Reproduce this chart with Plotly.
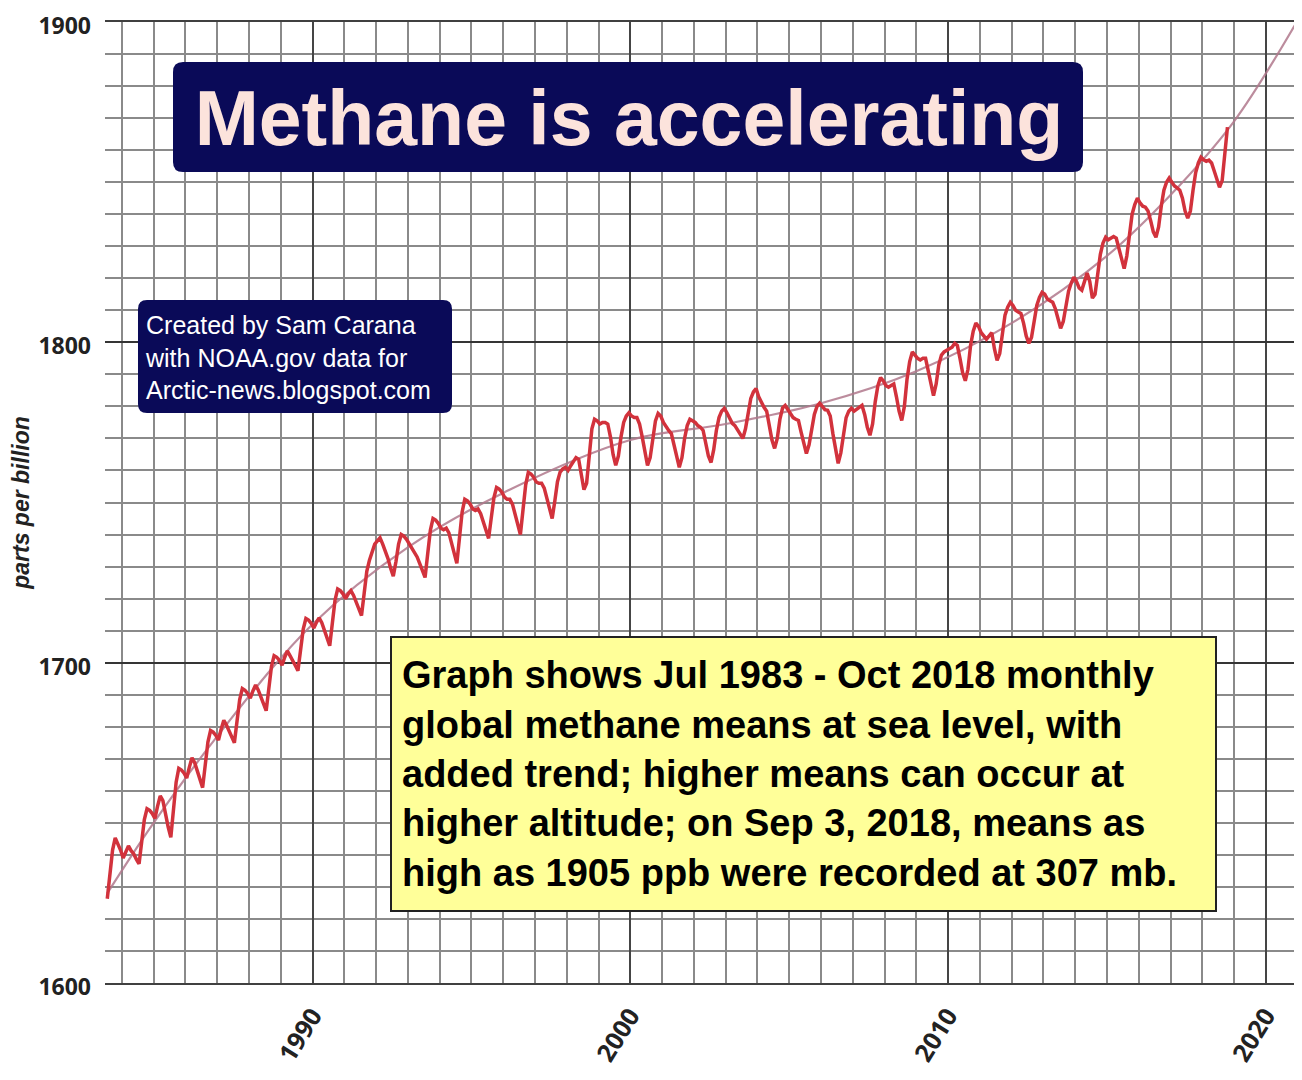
import plotly.graph_objects as go

# ---- data: NOAA global monthly mean methane (ppb), Jul 1983 - Oct 2018
start_year = 1983
start_month = 7
ch4_ppb = [
    1626.3, 1633.9, 1641.5, 1645.3, 1643.5, 1641.5,                                        # 1983 Jul-Dec
    1639.0, 1641.0, 1642.8, 1641.3, 1640.3, 1638.6, 1637.2, 1644.1, 1651.0, 1654.4, 1653.9, 1652.9,  # 1984
    1651.4, 1655.2, 1658.4, 1656.9, 1652.6, 1648.7, 1645.5, 1654.1, 1662.7, 1667.0, 1666.5, 1665.5,  # 1985
    1664.0, 1667.4, 1670.3, 1668.8, 1666.1, 1663.3, 1661.0, 1668.1, 1675.2, 1678.8, 1678.3, 1677.3,  # 1986
    1675.8, 1679.2, 1682.0, 1680.5, 1678.8, 1676.8, 1675.0, 1681.8, 1688.5, 1691.9, 1691.4, 1690.4,  # 1987
    1688.9, 1691.2, 1693.0, 1691.5, 1689.4, 1687.0, 1685.0, 1691.9, 1698.8, 1702.2, 1701.7, 1700.7,  # 1988
    1699.2, 1701.7, 1703.7, 1702.2, 1700.9, 1699.1, 1697.5, 1704.0, 1710.5, 1713.8, 1713.3, 1712.3,  # 1989
    1710.8, 1712.6, 1714.0, 1712.5, 1710.1, 1707.5, 1705.3, 1712.4, 1719.5, 1723.0, 1722.5, 1721.5,  # 1990
    1720.0, 1721.5, 1722.5, 1721.0, 1719.0, 1716.7, 1714.7, 1721.6, 1728.5, 1732.0, 1735.0, 1737.0,  # 1991
    1738.0, 1739.0, 1737.0, 1735.0, 1732.5, 1729.5, 1727.0, 1731.5, 1737.0, 1740.0, 1739.5, 1738.5,  # 1992
    1737.0, 1735.5, 1734.4, 1733.0, 1730.9, 1728.6, 1726.6, 1734.0, 1741.3, 1745.0, 1744.5, 1743.5,  # 1993
    1742.0, 1741.5, 1742.0, 1740.5, 1737.0, 1733.8, 1731.0, 1739.0, 1747.0, 1751.0, 1750.5, 1749.5,  # 1994
    1748.0, 1747.5, 1748.0, 1746.5, 1743.9, 1741.1, 1738.8, 1745.2, 1751.5, 1754.7, 1754.2, 1753.2,  # 1995
    1751.7, 1751.0, 1751.0, 1749.5, 1746.0, 1742.8, 1740.0, 1747.8, 1755.5, 1759.4, 1758.9, 1757.9,  # 1996
    1756.4, 1756.0, 1756.0, 1754.5, 1751.0, 1747.8, 1745.0, 1750.5, 1756.5, 1759.5, 1760.5, 1761.0,  # 1997
    1760.0, 1761.5, 1763.0, 1764.0, 1763.5, 1758.0, 1754.0, 1756.0, 1766.0, 1773.0, 1776.0, 1775.5,  # 1998
    1774.5, 1775.0, 1775.0, 1774.5, 1770.5, 1765.0, 1761.6, 1764.5, 1770.5, 1775.0, 1777.0, 1778.0,  # 1999
    1777.0, 1776.5, 1776.5, 1774.5, 1770.5, 1765.5, 1761.6, 1764.0, 1770.5, 1775.5, 1777.8, 1777.0,  # 2000
    1775.0, 1773.5, 1772.5, 1771.5, 1768.0, 1763.5, 1761.0, 1764.0, 1770.0, 1774.0, 1776.0, 1775.5,  # 2001
    1775.0, 1774.0, 1773.5, 1772.5, 1768.5, 1764.5, 1762.5, 1766.5, 1772.5, 1776.5, 1778.5, 1779.4,  # 2002
    1778.0, 1776.0, 1774.7, 1774.0, 1772.5, 1771.0, 1770.0, 1773.0, 1778.5, 1782.5, 1784.5, 1785.6,  # 2003
    1783.0, 1781.0, 1779.7, 1778.5, 1774.0, 1769.5, 1766.9, 1770.0, 1776.0, 1779.5, 1780.3, 1779.0,  # 2004
    1777.5, 1776.5, 1776.0, 1775.6, 1772.0, 1768.0, 1765.3, 1768.0, 1773.5, 1777.5, 1780.0, 1781.0,  # 2005
    1780.0, 1779.0, 1778.8, 1777.0, 1771.5, 1766.0, 1762.2, 1765.5, 1772.0, 1776.5, 1778.5, 1779.4,  # 2006
    1778.5, 1779.0, 1779.8, 1780.3, 1777.5, 1773.5, 1771.0, 1774.5, 1781.5, 1786.5, 1789.0, 1788.0,  # 2007
    1786.5, 1786.0, 1786.5, 1787.0, 1783.0, 1778.5, 1775.6, 1780.0, 1788.5, 1794.0, 1797.0, 1796.0,  # 2008
    1795.0, 1794.5, 1795.0, 1795.0, 1791.0, 1786.5, 1783.4, 1787.0, 1793.0, 1796.0, 1797.0, 1797.5,  # 2009
    1798.0, 1798.5, 1799.7, 1799.0, 1795.0, 1790.5, 1788.0, 1791.5, 1799.0, 1803.5, 1806.0, 1805.0,  # 2010
    1803.0, 1802.0, 1801.0, 1802.0, 1803.0, 1798.0, 1794.4, 1796.5, 1803.0, 1808.5, 1811.0, 1812.5,  # 2011
    1811.5, 1810.0, 1809.5, 1809.0, 1806.0, 1802.0, 1799.7, 1801.5, 1806.5, 1811.5, 1814.0, 1815.6,  # 2012
    1815.0, 1813.5, 1813.0, 1812.5, 1810.5, 1807.0, 1804.4, 1806.5, 1811.5, 1816.0, 1818.5, 1820.3,  # 2013
    1819.0, 1817.0, 1816.3, 1819.0, 1821.6, 1819.0, 1813.8, 1815.0, 1821.5, 1827.5, 1831.0, 1832.8,  # 2014
    1832.0, 1832.5, 1833.0, 1832.5, 1829.5, 1825.5, 1823.0, 1827.0, 1834.0, 1840.0, 1843.0, 1845.0,  # 2015
    1843.5, 1842.5, 1842.2, 1841.0, 1838.0, 1834.5, 1832.8, 1836.0, 1842.5, 1847.5, 1850.0, 1851.3,  # 2016
    1850.0, 1848.8, 1848.2, 1847.5, 1845.0, 1841.0, 1838.8, 1841.0, 1847.5, 1853.0, 1856.0, 1857.8,  # 2017
    1857.0, 1856.5, 1856.9, 1856.0, 1853.5, 1850.5, 1848.4, 1850.5, 1859.5, 1867.2,                  # 2018 Jan-Oct
]

# added trend
trend_years = [1983.54, 1985, 1987, 1990, 1993, 1996, 2000, 2003, 2006, 2009, 2012, 2015, 2017, 2019, 2021]
trend_ppb = [1628, 1650, 1677, 1712, 1736, 1753, 1769.5, 1774.5, 1781, 1791, 1806, 1827, 1846, 1869, 1900.5]

x_tick_vals = [1990, 2000, 2010, 2020]
y_tick_vals = [1600, 1700, 1800, 1900]

# decimal-year positions of the monthly means
x_dec = []
for i in range(len(ch4_ppb)):
    k = (start_month - 1) + i
    yr = start_year + k // 12
    mo = k % 12 + 1
    x_dec.append(yr + (mo - 0.5) / 12)

fig = go.Figure()
fig.add_trace(go.Scatter(
    x=trend_years, y=trend_ppb, mode="lines",
    line=dict(color="rgba(176,120,140,0.85)", width=2.2, shape="spline", smoothing=1.0),
    hoverinfo="skip", showlegend=False,
))
fig.add_trace(go.Scatter(
    x=x_dec, y=ch4_ppb, mode="lines",
    line=dict(color="#d2323c", width=3.5),
    showlegend=False,
))

# page body has an 8px margin: figure coords = page coords - 8
OFF = 8
W, H = 1302, 1080
L, T = 105 - OFF, 22 - OFF
R = W - (1297 - OFF)
B = H - (983 - OFF)

fig.update_layout(
    width=W, height=H,
    margin=dict(l=L, r=R, t=T, b=B),
    paper_bgcolor="white", plot_bgcolor="white",
    showlegend=False,
    xaxis=dict(
        range=[1983.47, 2020.98], automargin=False,
        tickmode="array", tickvals=x_tick_vals, ticktext=[str(v) for v in x_tick_vals],
        tickangle=-58,
        tickfont=dict(family="Open Sans, Roboto, Liberation Sans", size=25, color="#222", weight="bold"),
        ticks="", ticklabelstandoff=6, ticklabeloverflow="allow",
        showgrid=True, gridcolor="#454545", gridwidth=2.4,
        minor=dict(dtick=1, tick0=1990, showgrid=True, gridcolor="#8a8a8a", gridwidth=1.7),
        showline=True, mirror=True, linecolor="#404040", linewidth=2.4,
        zeroline=False,
    ),
    yaxis=dict(
        range=[1600, 1900], automargin=False,
        tickmode="array", tickvals=y_tick_vals, ticktext=[str(v) for v in y_tick_vals],
        tickfont=dict(family="Open Sans, Roboto, Liberation Sans", size=23, color="#222", weight="bold"),
        ticks="", ticklabelstandoff=13, ticklabelshift=4, ticklabeloverflow="allow",
        showgrid=True, gridcolor="#353535", gridwidth=2.2,
        minor=dict(dtick=10, tick0=1600, showgrid=True, gridcolor="#8a8a8a", gridwidth=1.7),
        showline=False, zeroline=False,
        title=dict(text="parts per billion", standoff=8,
                   font=dict(family="Liberation Sans, Arial", size=23, color="#222",
                             weight="bold", style="italic")),
    ),
)

pw = W - L - R
ph = H - T - B


def px_x(px):
    return (px - OFF - L) / pw


def px_y(py):
    return (H - B - (py - OFF)) / ph


def rounded_box(x0, y0, x1, y1, r, color):
    """rounded rectangle given in page pixels, drawn in paper coordinates"""
    X = lambda v: f"{px_x(v):.5f}"
    Y = lambda v: f"{px_y(v):.5f}"
    path = (f"M {X(x0 + r)},{Y(y0)} L {X(x1 - r)},{Y(y0)} Q {X(x1)},{Y(y0)} {X(x1)},{Y(y0 + r)} "
            f"L {X(x1)},{Y(y1 - r)} Q {X(x1)},{Y(y1)} {X(x1 - r)},{Y(y1)} "
            f"L {X(x0 + r)},{Y(y1)} Q {X(x0)},{Y(y1)} {X(x0)},{Y(y1 - r)} "
            f"L {X(x0)},{Y(y0 + r)} Q {X(x0)},{Y(y0)} {X(x0 + r)},{Y(y0)} Z")
    fig.add_shape(type="path", path=path, xref="paper", yref="paper",
                  fillcolor=color, line=dict(width=0), layer="above")


NAVY = "#0a0a58"
rounded_box(173, 62, 1083, 172, 10, NAVY)
rounded_box(138, 300, 452, 413, 9, NAVY)

# title
fig.add_annotation(
    xref="paper", yref="paper", x=px_x(173), y=px_y(62), xanchor="left", yanchor="top",
    text="<b>Methane is accelerating</b>", showarrow=False,
    font=dict(family="Liberation Sans, Arial", size=77, color="#fce3dc"),
    borderpad=5, width=900, height=100, align="center", valign="middle",
)
# credit
fig.add_annotation(
    xref="paper", yref="paper", x=px_x(138), y=px_y(300), xanchor="left", yanchor="top",
    text="Created by Sam Carana<br>with NOAA.gov data for<br>Arctic-news.blogspot.com",
    showarrow=False,
    font=dict(family="Liberation Sans, Arial", size=25, color="white"),
    borderpad=6, width=302, height=101, align="left", valign="middle",
)
# note box
fig.add_annotation(
    xref="paper", yref="paper", x=px_x(390), y=px_y(636), xanchor="left", yanchor="top",
    text=("<b>Graph shows Jul 1983 - Oct 2018 monthly<br>"
          "global methane means at sea level, with<br>"
          "added trend; higher means can occur at<br>"
          "higher altitude; on Sep 3, 2018, means as<br>"
          "high as 1905 ppb were recorded at 307 mb.</b>"),
    showarrow=False,
    font=dict(family="Liberation Sans, Arial", size=38, color="black"),
    bgcolor="#ffff99", bordercolor="#222", borderwidth=2, borderpad=10,
    width=803, height=252, align="left", valign="middle",
)

fig.write_html("out.html")
